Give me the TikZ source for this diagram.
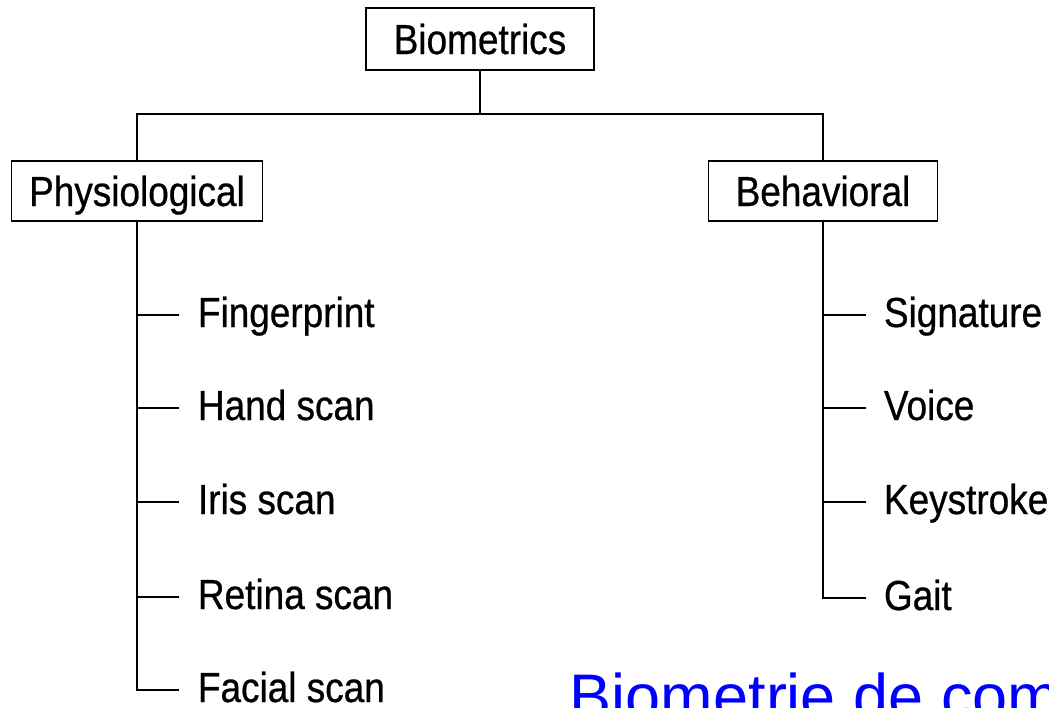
\documentclass[tikz,border=0pt]{standalone}
\usepackage{fontspec}
\setmainfont{Liberation Sans}[FakeStretch=0.88,FakeBold=0.6]
\newfontfamily\bluefont{Liberation Sans}
\definecolor{pureblue}{RGB}{0,0,255}
\begin{document}
\begin{tikzpicture}[x=1pt,y=-1pt,
  line width=1.9pt,
  box/.style={draw, rectangle, inner sep=0pt, font=\fontsize{42}{42}\selectfont, text height=30pt, text depth=0pt},
  item/.style={anchor=base west, inner sep=0pt, font=\fontsize{42}{42}\selectfont},
  conn/.style={draw, line width=1.9pt}]
\useasboundingbox (0,0) rectangle (1049,707);
\clip (0,0) rectangle (1049,707);
\fill[white] (0,0) rectangle (1049,707);

\node[box, minimum width=228pt, minimum height=62pt] (bio) at (480,39) {Biometrics};
\node[box, minimum width=251pt, minimum height=60pt] (phy) at (137,191) {Physiological};
\node[box, minimum width=229pt, minimum height=60pt] (beh) at (823,191) {Behavioral};

\coordinate (j) at (480,114);
\draw[conn] (bio.south) -- (j);
\draw[conn] (phy.north) |- (j) -| (beh.north);

% physiological items
\coordinate (pL1) at (137,315); \coordinate (pR1) at (179,315);
\coordinate (pL2) at (137,408); \coordinate (pR2) at (179,408);
\coordinate (pL3) at (137,502); \coordinate (pR3) at (179,502);
\coordinate (pL4) at (137,597); \coordinate (pR4) at (179,597);
\coordinate (pL5) at (137,690); \coordinate (pR5) at (179,690);
\node[item] (f1) at (197,327) {Fingerprint};
\node[item] (f2) at (197,420) {Hand scan};
\node[item] (f3) at (197,514) {Iris scan};
\node[item] (f4) at (197,609) {Retina scan};
\node[item] (f5) at (197,702) {Facial scan};
\draw[conn] (phy.south) -- (pL5) -- (pR5);
\draw[conn] (pL1) -- (pR1);
\draw[conn] (pL2) -- (pR2);
\draw[conn] (pL3) -- (pR3);
\draw[conn] (pL4) -- (pR4);

% behavioral items
\coordinate (bL1) at (823,315); \coordinate (bR1) at (866,315);
\coordinate (bL2) at (823,408); \coordinate (bR2) at (866,408);
\coordinate (bL3) at (823,502); \coordinate (bR3) at (866,502);
\coordinate (bL4) at (823,598); \coordinate (bR4) at (866,598);
\node[item] (g1) at (883,327) {Signature};
\node[item] (g2) at (883,420) {Voice};
\node[item] (g3) at (883,514) {Keystroke};
\node[item] (g4) at (883,610) {Gait};
\draw[conn] (beh.south) -- (bL4) -- (bR4);
\draw[conn] (bL1) -- (bR1);
\draw[conn] (bL2) -- (bR2);
\draw[conn] (bL3) -- (bR3);

\node[anchor=base west, inner sep=0pt, text=pureblue, font=\bluefont\fontsize{63}{63}\selectfont] (blue) at (569,718) {Biometrie de comportement};
\end{tikzpicture}
\end{document}
